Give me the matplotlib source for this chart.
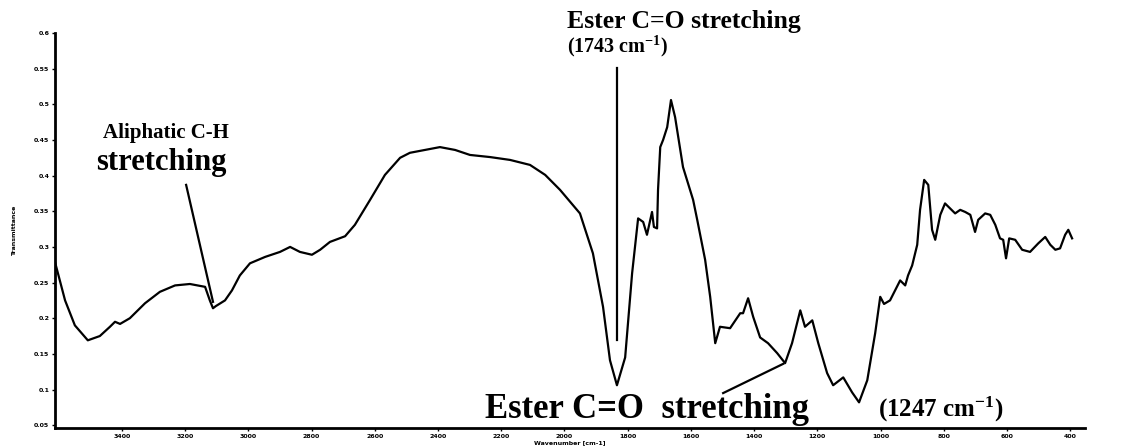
"""
FTIR spectrum with ester / aliphatic band annotations.
"""

import numpy as np
import matplotlib
matplotlib.use("Agg")
import matplotlib.pyplot as plt

plt.rcParams["mathtext.fontset"] = "custom"
plt.rcParams["mathtext.rm"] = "Liberation Serif:bold"
plt.rcParams["mathtext.default"] = "rm"

#  Data

wavenumber = [
    3612, 3580, 3549, 3508, 3470, 3438, 3422, 3406, 3375, 3327, 3280, 3232,
    3185, 3137, 3122, 3112, 3103, 3074, 3052, 3027, 2995, 2947, 2900, 2868,
    2837, 2799, 2773, 2742, 2694, 2663, 2615, 2568, 2520, 2489, 2441, 2394,
    2346, 2299, 2235, 2172, 2109, 2061, 2014, 1951, 1910, 1878, 1856, 1834,
    1808, 1786, 1767, 1751, 1739, 1723, 1717, 1707, 1704, 1697, 1688, 1675,
    1663, 1650, 1625, 1593, 1580, 1555, 1539, 1523, 1508, 1476, 1444, 1435,
    1419, 1403, 1381, 1356, 1327, 1302, 1280, 1254, 1239, 1216, 1197, 1169,
    1150, 1118, 1090, 1068, 1042, 1017, 1001, 989, 970, 954, 938, 922,
    913, 900, 884, 875, 862, 849, 837, 827, 811, 796, 780, 764,
    748, 732, 716, 701, 691, 669, 653, 637, 622, 612, 603, 593,
    574, 552, 527, 501, 479, 463, 447, 432, 416, 406, 394,
]
transmittance = [
    0.279, 0.225, 0.190, 0.169, 0.175, 0.188, 0.195, 0.192, 0.200, 0.221, 0.237, 0.246,
    0.248, 0.244, 0.225, 0.214, 0.217, 0.225, 0.239, 0.260, 0.277, 0.286, 0.293, 0.300,
    0.293, 0.289, 0.296, 0.307, 0.315, 0.331, 0.366, 0.401, 0.425, 0.432, 0.436, 0.440,
    0.436, 0.429, 0.426, 0.422, 0.415, 0.401, 0.380, 0.347, 0.291, 0.216, 0.141, 0.106,
    0.145, 0.263, 0.340, 0.335, 0.317, 0.349, 0.328, 0.326, 0.380, 0.440, 0.450, 0.468,
    0.506, 0.482, 0.412, 0.366, 0.338, 0.282, 0.230, 0.165, 0.188, 0.186, 0.207, 0.207,
    0.228, 0.202, 0.173, 0.165, 0.151, 0.137, 0.165, 0.211, 0.188, 0.197, 0.165, 0.123,
    0.106, 0.117, 0.096, 0.082, 0.113, 0.179, 0.230, 0.220, 0.225, 0.239, 0.253, 0.246,
    0.260, 0.274, 0.303, 0.352, 0.394, 0.387, 0.324, 0.310, 0.345, 0.361, 0.354, 0.347,
    0.352, 0.349, 0.345, 0.321, 0.338, 0.347, 0.345, 0.331, 0.312, 0.310, 0.284, 0.312,
    0.310, 0.296, 0.293, 0.305, 0.314, 0.303, 0.296, 0.298, 0.317, 0.324, 0.312,
]

x_ticks = list(range(3400, 399, -200))
y_ticks = [0.6, 0.55, 0.5, 0.45, 0.4, 0.35, 0.3, 0.25, 0.2, 0.15, 0.1, 0.05]

# annotation pointer lines (wavenumber, transmittance)
ester_top_line = ([1834, 1834], [0.551, 0.169])
aliphatic_line = ([3197, 3112], [0.387, 0.223])
ester_low_line = ([1498, 1308], [0.095, 0.136])


fig = plt.figure(figsize=(11.4, 4.48), dpi=100)
ax = fig.add_axes([0.0482, 0.0446, 0.9036, 0.8817])

ax.plot(wavenumber, transmittance, color="black", linewidth=1.6)

for lx, ly in (ester_top_line, aliphatic_line, ester_low_line):
    ax.plot(lx, ly, color="black", linewidth=1.6, clip_on=False)

ax.set_xlim(3612, 353)
ax.set_ylim(0.046, 0.6)
ax.set_xticks(x_ticks)
ax.set_xticklabels([str(t) for t in x_ticks])
ax.set_yticks(y_ticks)
ax.set_yticklabels([f"{t:g}" for t in y_ticks])
ax.tick_params(labelsize=4.5, length=2, width=1, pad=2)
for lbl in ax.get_xticklabels() + ax.get_yticklabels():
    lbl.set_fontweight("bold")

for side in ("top", "right"):
    ax.spines[side].set_visible(False)
for side in ("left", "bottom"):
    ax.spines[side].set_linewidth(2)

ax.set_xlabel("Wavenumber [cm-1]", fontsize=4.5, fontweight="bold", labelpad=1)
ax.set_ylabel("Transmittance", fontsize=4.5, fontweight="bold", labelpad=12)

serif = dict(family="Liberation Serif", fontweight="bold", color="black")
fig.text(0.497, 0.951, "Ester C=O stretching", fontsize=18.5, va="center", **serif)
fig.text(0.497, 0.897, r"(1743 cm$^{-1}$)", fontsize=14.5, va="center", **serif)
fig.text(0.0904, 0.703, "Aliphatic C-H", fontsize=15, va="center", **serif)
fig.text(0.0842, 0.638, "stretching", fontsize=22, va="center", **serif)
fig.text(0.4254, 0.085, "Ester C=O  stretching", fontsize=25, va="center", **serif)
fig.text(0.770, 0.085, r"(1247 cm$^{-1}$)", fontsize=18, va="center", **serif)

fig.savefig("out.png", dpi=100)
